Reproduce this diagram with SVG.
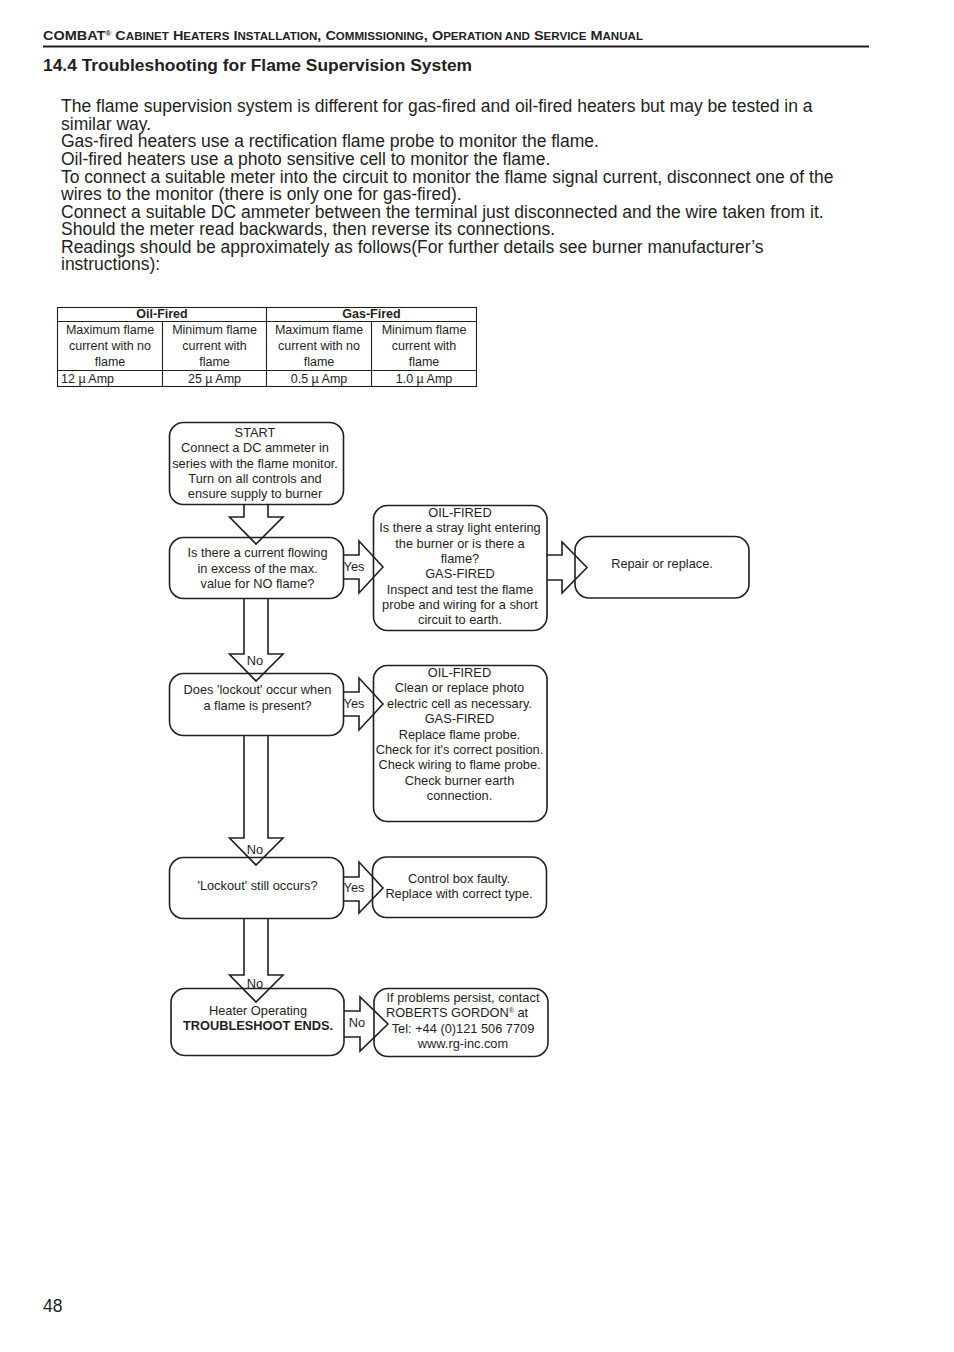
<svg xmlns="http://www.w3.org/2000/svg" width="954" height="1352" viewBox="0 0 954 1352">
<style>
text{font-family:"Liberation Sans",Arial,sans-serif;fill:#231f20}
.hd{font-size:12.5px;font-weight:bold}
.sc{font-size:10px}
.t{font-size:17.4px;font-weight:bold}
.b{font-size:17.5px}
.tb{font-size:12.5px}
.tbh{font-size:12.5px;font-weight:bold}
.f{font-size:12.8px;text-anchor:middle}
.c{text-anchor:middle}
.box{fill:none;stroke:#231f20;stroke-width:1.6}
.arr{fill:none;stroke:#231f20;stroke-width:1.6;stroke-linejoin:miter}
.grid{stroke:#231f20;stroke-width:1.1;fill:none}
</style>
<rect width="954" height="1352" fill="#fff"/>
<g id="header">
<text x="43" y="40" class="hd" textLength="600" lengthAdjust="spacingAndGlyphs">COMBAT<tspan font-size="7" dy="-4">®</tspan><tspan dy="4"> C</tspan><tspan class="sc">ABINET</tspan> H<tspan class="sc">EATERS</tspan> I<tspan class="sc">NSTALLATION</tspan>, C<tspan class="sc">OMMISSIONING</tspan>, O<tspan class="sc">PERATION AND</tspan> S<tspan class="sc">ERVICE</tspan> M<tspan class="sc">ANUAL</tspan></text>
<line x1="43" y1="46.5" x2="869" y2="46.5" stroke="#231f20" stroke-width="2"/>
<text x="43" y="71" class="t">14.4 Troubleshooting for Flame Supervision System</text>
</g>
<g id="body">
<text x="61" y="112" class="b">The flame supervision system is different for gas-fired and oil-fired heaters but may be tested in a</text>
<text x="61" y="130" class="b">similar way.</text>
<text x="61" y="147" class="b">Gas-fired heaters use a rectification flame probe to monitor the flame.</text>
<text x="61" y="165" class="b">Oil-fired heaters use a photo sensitive cell to monitor the flame.</text>
<text x="61" y="183" class="b">To connect a suitable meter into the circuit to monitor the flame signal current, disconnect one of the</text>
<text x="61" y="200" class="b">wires to the monitor (there is only one for gas-fired).</text>
<text x="61" y="218" class="b">Connect a suitable DC ammeter between the terminal just disconnected and the wire taken from it.</text>
<text x="61" y="235" class="b">Should the meter read backwards, then reverse its connections.</text>
<text x="61" y="253" class="b">Readings should be approximately as follows(For further details see burner manufacturer’s</text>
<text x="61" y="270" class="b">instructions):</text>
</g>
<g id="table">
<rect x="57.5" y="307.5" width="419" height="79" class="grid"/>
<line x1="57.5" y1="321.5" x2="476.5" y2="321.5" class="grid"/>
<line x1="57.5" y1="370.5" x2="476.5" y2="370.5" class="grid"/>
<line x1="266.5" y1="307.5" x2="266.5" y2="386.5" class="grid"/>
<line x1="162.5" y1="321.5" x2="162.5" y2="386.5" class="grid"/>
<line x1="371.5" y1="321.5" x2="371.5" y2="386.5" class="grid"/>
<text x="162" y="318" class="tbh c">Oil-Fired</text>
<text x="371.5" y="318" class="tbh c">Gas-Fired</text>
<text class="tb c"><tspan x="110" y="334">Maximum flame</tspan><tspan x="110" y="350">current with no</tspan><tspan x="110" y="366">flame</tspan></text>
<text class="tb c"><tspan x="214.5" y="334">Minimum flame</tspan><tspan x="214.5" y="350">current with</tspan><tspan x="214.5" y="366">flame</tspan></text>
<text class="tb c"><tspan x="319" y="334">Maximum flame</tspan><tspan x="319" y="350">current with no</tspan><tspan x="319" y="366">flame</tspan></text>
<text class="tb c"><tspan x="424" y="334">Minimum flame</tspan><tspan x="424" y="350">current with</tspan><tspan x="424" y="366">flame</tspan></text>
<text x="61" y="382.5" class="tb">12 µ Amp</text>
<text x="214.5" y="382.5" class="tb c">25 µ Amp</text>
<text x="319" y="382.5" class="tb c">0.5 µ Amp</text>
<text x="424" y="382.5" class="tb c">1.0 µ Amp</text>
</g>
<g id="connectors">
<path class="arr" d="M244,504 V517 H229.5 L256,544 L283,517 H268 V504"/>
<path class="arr" d="M244,598 V654 H229.5 L256,681 L283,654 H268 V598"/>
<path class="arr" d="M244,735 V838 H229.5 L256,865 L283,838 H268 V735"/>
<path class="arr" d="M244,918 V975 H229.5 L256,1002 L283,975 H268 V918"/>
<path class="arr" d="M343,555 H359 V541 L383,567 L359,593 V579 H343"/>
<path class="arr" d="M547,555 H562 V542 L587,567.5 L562,593 V580 H547"/>
<path class="arr" d="M343,692 H359 V678 L383,704 L359,730 V716 H343"/>
<path class="arr" d="M343,877 H359 V862 L383,888 L359,913 V901 H343"/>
<path class="arr" d="M344,1011 H360 V997 L388,1024 L360,1051 V1037 H344"/>
<text x="354" y="571" class="f">Yes</text>
<text x="354" y="708" class="f">Yes</text>
<text x="354" y="892" class="f">Yes</text>
<text x="255" y="665" class="f">No</text>
<text x="255" y="854" class="f">No</text>
<text x="255" y="988" class="f">No</text>
<text x="357" y="1027" class="f">No</text>
</g>
<g id="start">
<rect x="169.5" y="422.5" width="174" height="82" rx="14" class="box"/>
<text class="f"><tspan x="255" y="436.5">START</tspan><tspan x="255" y="452">Connect a DC ammeter in</tspan><tspan x="255" y="467.5">series with the flame monitor.</tspan><tspan x="255" y="482.5">Turn on all controls and</tspan><tspan x="255" y="498">ensure supply to burner</tspan></text>
</g>
<g id="q1">
<rect x="169.5" y="537.5" width="174" height="61" rx="14" class="box"/>
<text class="f"><tspan x="257.5" y="557">Is there a current flowing</tspan><tspan x="257.5" y="572.5">in excess of the max.</tspan><tspan x="257.5" y="588">value for NO flame?</tspan></text>
</g>
<g id="stray">
<rect x="373.5" y="505.5" width="173.5" height="125" rx="14" class="box"/>
<text class="f"><tspan x="460" y="517">OIL-FIRED</tspan><tspan x="460" y="532">Is there a stray light entering</tspan><tspan x="460" y="547.5">the burner or is there a</tspan><tspan x="460" y="563">flame?</tspan><tspan x="460" y="578">GAS-FIRED</tspan><tspan x="460" y="593.5">Inspect and test the flame</tspan><tspan x="460" y="609">probe and wiring for a short</tspan><tspan x="460" y="624">circuit to earth.</tspan></text>
</g>
<g id="repair">
<rect x="575" y="536.5" width="174" height="61.5" rx="14" class="box"/>
<text x="662" y="568" class="f">Repair or replace.</text>
</g>
<g id="q2">
<rect x="169.5" y="673.5" width="174" height="62" rx="14" class="box"/>
<text class="f"><tspan x="257.5" y="694">Does 'lockout' occur when</tspan><tspan x="257.5" y="710">a flame is present?</tspan></text>
</g>
<g id="photo">
<rect x="373.5" y="665.5" width="173.5" height="156" rx="14" class="box"/>
<text class="f"><tspan x="459.5" y="677">OIL-FIRED</tspan><tspan x="459.5" y="692">Clean or replace photo</tspan><tspan x="459.5" y="708">electric cell as necessary.</tspan><tspan x="459.5" y="723">GAS-FIRED</tspan><tspan x="459.5" y="739">Replace flame probe.</tspan><tspan x="459.5" y="754">Check for it's correct position.</tspan><tspan x="459.5" y="769">Check wiring to flame probe.</tspan><tspan x="459.5" y="785">Check burner earth</tspan><tspan x="459.5" y="800">connection.</tspan></text>
</g>
<g id="q3">
<rect x="169.5" y="857.5" width="174" height="61" rx="14" class="box"/>
<text x="257.5" y="890" class="f">'Lockout' still occurs?</text>
</g>
<g id="controlbox">
<rect x="372.5" y="857" width="174" height="60.5" rx="14" class="box"/>
<text class="f"><tspan x="459" y="883">Control box faulty.</tspan><tspan x="459" y="898">Replace with correct type.</tspan></text>
</g>
<g id="end">
<rect x="171" y="988.5" width="173" height="67" rx="14" class="box"/>
<text class="f"><tspan x="258" y="1015">Heater Operating</tspan><tspan x="258" y="1030" font-weight="bold">TROUBLESHOOT ENDS.</tspan></text>
</g>
<g id="contact">
<rect x="374" y="988.5" width="174" height="68" rx="14" class="box"/>
<text class="f"><tspan x="463" y="1002">If problems persist, contact</tspan><tspan x="457" y="1017">ROBERTS GORDON</tspan><tspan font-size="7" dy="-4">®</tspan><tspan dy="4"> at</tspan><tspan x="463" y="1033">Tel: +44 (0)121 506 7709</tspan><tspan x="463" y="1048">www.rg-inc.com</tspan></text>
</g>
<text x="43" y="1312" class="b">48</text>
</svg>
